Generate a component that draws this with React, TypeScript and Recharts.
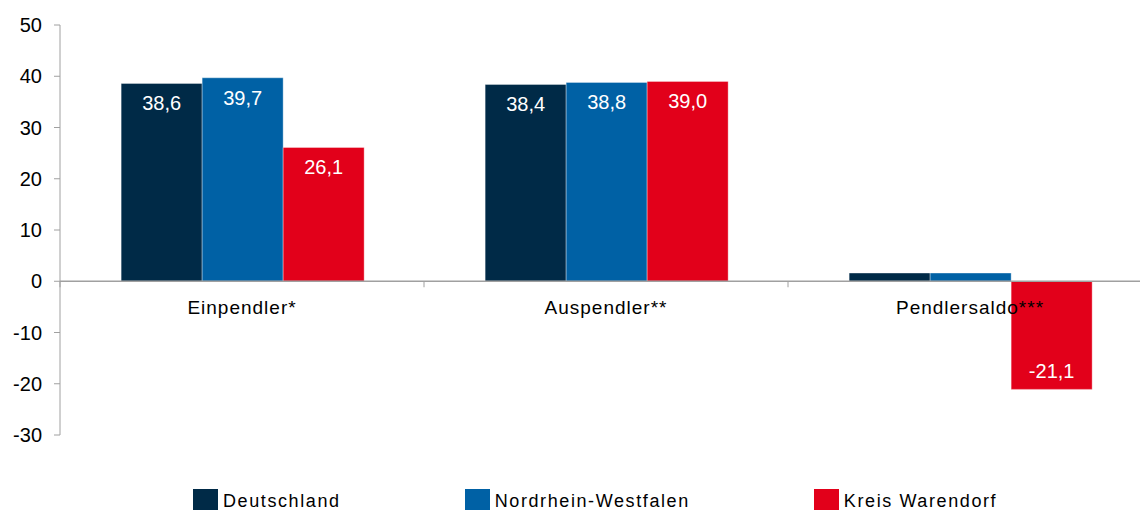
import React from "react";
import { BarChart, Bar, XAxis, YAxis, ReferenceLine, LabelList, Legend } from "recharts";

const categories = ["Einpendler*", "Auspendler**", "Pendlersaldo***"];
const deutschland = [38.6, 38.4, 1.6];
const nrw = [39.7, 38.8, 1.6];
const warendorf = [26.1, 39.0, -21.1];
const yTicks = [-30, -20, -10, 0, 10, 20, 30, 40, 50];

const seriesNames = ["Deutschland", "Nordrhein-Westfalen", "Kreis Warendorf"];
const colors = ["#002a47", "#0061a5", "#e2001a"];

const data = categories.map((c, i) => ({
  name: c,
  d: deutschland[i],
  n: nrw[i],
  k: warendorf[i],
}));

const FONT = '"Liberation Sans", Arial, sans-serif';

const BarValueLabel = (props: any) => {
  const { x, y, width, height, value } = props;
  if (value == null || Math.abs(value) < 5) return null;
  const top = Math.min(y, y + height);
  const bottom = Math.max(y, y + height);
  const cy = value >= 0 ? top + 20 : bottom - 18;
  return (
    <text
      x={x + width / 2}
      y={cy}
      fill="#ffffff"
      fontSize={20}
      fontFamily={FONT}
      textAnchor="middle"
      dominantBaseline="central"
    >
      {Number(value).toFixed(1).replace(".", ",")}
    </text>
  );
};

const ZeroAxisLabels = (props: any) => {
  const vb = props.viewBox || {};
  const x0 = vb.x ?? 0;
  const w = vb.width ?? 0;
  const y0 = vb.y ?? 0;
  const n = categories.length;
  return (
    <g>
      {categories.map((c, i) => (
        <line
          key={"t" + i}
          x1={x0 + (w * i) / n}
          x2={x0 + (w * i) / n}
          y1={y0}
          y2={y0 + 6}
          stroke="#a0a0a0"
          strokeWidth={1}
        />
      ))}
      {categories.map((c, i) => (
        <text
          key={"c" + i}
          x={x0 + (w * (i + 0.5)) / n}
          y={y0 + 26}
          fill="#000"
          fontSize={19}
          fontFamily={FONT}
          letterSpacing={1}
          textAnchor="middle"
          dominantBaseline="central"
        >
          {c}
        </text>
      ))}
    </g>
  );
};

const CustomLegend = () => (
  <div
    style={{
      display: "flex",
      flexDirection: "row",
      alignItems: "flex-start",
      paddingLeft: 193,
      gap: 124,
      fontFamily: FONT,
      fontSize: 18,
      letterSpacing: 1.6,
      color: "#000",
    }}
  >
    {seriesNames.map((s, i) => (
      <div key={s} style={{ display: "flex", alignItems: "flex-start" }}>
        <div style={{ width: 25, height: 22, background: colors[i], marginRight: 5 }} />
        <span style={{ lineHeight: "22px", marginTop: 1 }}>{s}</span>
      </div>
    ))}
  </div>
);

export default function App() {
  return (
    <div
      style={{
        position: "absolute",
        left: 0,
        top: 0,
        width: 1140,
        height: 510,
        overflow: "hidden",
        background: "#fff",
      }}
    >
      <BarChart
        width={1160}
        height={510}
        data={data}
        margin={{ top: 25, right: 8, left: 0, bottom: 75 }}
        barCategoryGap="16.8%"
        barGap={0}
      >
        <XAxis dataKey="name" hide />
        <YAxis
          domain={[-30, 50]}
          ticks={yTicks}
          width={60}
          interval={0}
          axisLine={{ stroke: "#a0a0a0" }}
          tickLine={{ stroke: "#a0a0a0" }}
          tickSize={6}
          tickMargin={12}
          tick={{ fill: "#000", fontSize: 20, fontFamily: FONT }}
        />
        <Bar dataKey="d" name={seriesNames[0]} fill={colors[0]} stroke="#ffffff" strokeOpacity={0.35} strokeWidth={1} isAnimationActive={false}>
          <LabelList dataKey="d" content={BarValueLabel} />
        </Bar>
        <Bar dataKey="n" name={seriesNames[1]} fill={colors[1]} stroke="#ffffff" strokeOpacity={0.35} strokeWidth={1} isAnimationActive={false}>
          <LabelList dataKey="n" content={BarValueLabel} />
        </Bar>
        <Bar dataKey="k" name={seriesNames[2]} fill={colors[2]} stroke="#ffffff" strokeOpacity={0.35} strokeWidth={1} isAnimationActive={false}>
          <LabelList dataKey="k" content={BarValueLabel} />
        </Bar>
        <ReferenceLine y={0} stroke="#a0a0a0" strokeWidth={1.5} label={<ZeroAxisLabels />} />
        <Legend
          layout="horizontal"
          verticalAlign="middle"
          align="center"
          content={<CustomLegend />}
          wrapperStyle={{ position: "absolute", top: 489, left: 0, width: 1140, height: 22 }}
        />
      </BarChart>
    </div>
  );
}
